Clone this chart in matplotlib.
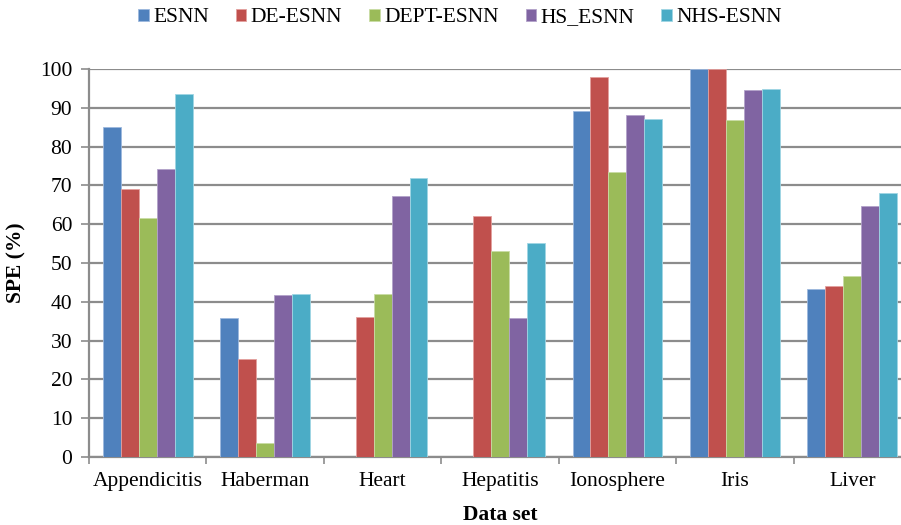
import numpy as np
import matplotlib
matplotlib.use("Agg")
import matplotlib.pyplot as plt

plt.rcParams['font.family'] = ['Liberation Serif', 'DejaVu Serif']

datasets = ["Appendicitis", "Haberman", "Heart", "Hepatitis", "Ionosphere", "Iris", "Liver"]
series = ["ESNN", "DE-ESNN", "DEPT-ESNN", "HS_ESNN", "NHS-ESNN"]

esnn = [85.0, 35.7, 0.0, 0.0, 89.1, 100.0, 43.2]
de_esnn = [69.0, 25.2, 36.1, 62.1, 97.9, 100.0, 44.1]
dept_esnn = [61.7, 3.6, 42.1, 53.2, 73.5, 86.9, 46.6]
hs_esnn = [74.1, 41.8, 67.3, 35.7, 88.1, 94.6, 64.7]
nhs_esnn = [93.5, 41.9, 71.8, 55.2, 87.0, 94.9, 68.0]

colors = ["#4F81BD", "#C0504D", "#9BBB59", "#8064A2", "#4BACC6"]
edges = ["#9DB9DE", "#E3A09E", "#C9DCA4", "#B3A2C9", "#A0D6E4"]

values = [esnn, de_esnn, dept_esnn, hs_esnn, nhs_esnn]

fs = 15.5

fig = plt.figure(figsize=(9.01, 5.25), dpi=100)
# axes spans a bit past the right edge, like the original (clipped) chart
ax = fig.add_axes([89/901, (525-457)/525, 822/901, (457-69)/525])

x = np.arange(len(datasets))
w = 0.153
for i, (name, vals) in enumerate(zip(series, values)):
    ax.bar(x + (i - 2) * w, vals, w, color=colors[i], edgecolor=edges[i],
           linewidth=0.6, label=name, zorder=3)

ax.set_xlim(-0.5, len(datasets) - 0.5)
ax.set_ylim(0, 100)
ax.set_yticks(np.arange(0, 101, 10))
ax.yaxis.grid(True, color="#8c8c8c", linewidth=1.6, zorder=0)
ax.set_axisbelow(True)

ax.set_xticks(x)
ax.set_xticklabels(datasets, fontsize=fs)
ax.set_xticks(np.arange(-0.5, len(datasets)), minor=True)
ax.tick_params(axis="x", which="major", length=0, pad=11)
ax.tick_params(axis="x", which="minor", length=5, width=1.2, color="#8c8c8c")
ax.tick_params(axis="y", length=6, width=1.2, color="#8c8c8c", labelsize=fs, pad=6)

for s in ["top", "right"]:
    ax.spines[s].set_visible(False)
for s in ["left", "bottom"]:
    ax.spines[s].set_color("#8c8c8c")
    ax.spines[s].set_linewidth(1.6)

ax.set_ylabel("SPE (%)", fontsize=fs, fontweight="bold", labelpad=10)
ax.set_xlabel("Data set", fontsize=fs, fontweight="bold", labelpad=10)

fig.legend(loc="center", bbox_to_anchor=(460/901, 1 - 18/525), ncol=5,
           frameon=False, fontsize=fs, handlelength=0.5, handleheight=0.5,
           handletextpad=0.2, columnspacing=1.25)

fig.savefig("out.png", dpi=100)
